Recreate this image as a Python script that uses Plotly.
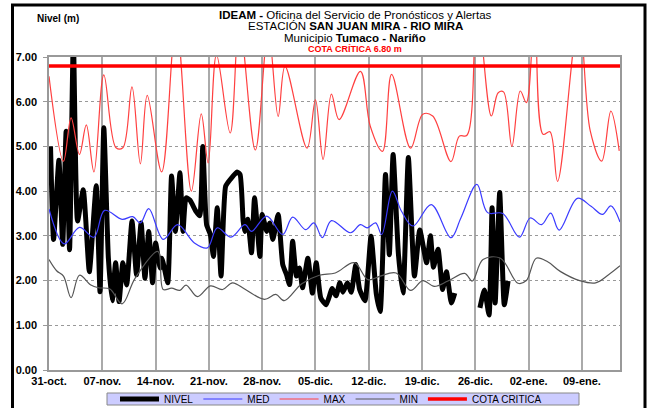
import pandas as pd
import plotly.graph_objects as go

# ---- data (day offset from 31-oct, value in m) ----
start = pd.Timestamp("2022-10-31")

nivel_days = [0.2, 0.6, 1.3, 1.8, 2.25, 2.7, 3.2, 3.75, 4.5, 5.3, 6.2, 6.7, 7.2,
              7.8, 8.3, 8.75, 9.2, 9.7, 10.2, 10.9, 11.5, 12.1, 12.6, 13.1, 13.6,
              14.0, 14.6, 14.8, 15.1, 15.6, 16.1, 16.6, 17.2, 17.6, 18.0, 18.5,
              19.3, 19.8, 20.2, 20.7, 21.2, 21.6, 22.1, 22.6, 23.2, 23.8, 24.7,
              25.1, 25.5, 25.7, 26.1, 26.6, 27.0, 27.7, 28.0, 28.6, 29.0, 29.4,
              30.1, 30.7, 31.2, 31.6, 32.0, 32.5, 32.9, 33.3, 34.0, 34.6, 35.1,
              35.7, 36.4, 37.2, 37.7, 38.2, 38.6, 39.2, 39.7, 40.3, 40.8, 41.5,
              42.3, 43.0, 43.5, 44.2, 44.7, 45.2, 45.9, 46.5, 47.2, 48.0, 48.7,
              49.6, 50.1, 50.5, 51.1, 51.7, 52.2, 52.85, 53.3,
              55.0,
              56.6, 57.2, 57.8, 58.2, 58.6, 59.2, 59.8, 60.3]
nivel_vals = [5.00, 2.92, 4.69, 2.81, 5.34, 2.69, 7.40, 3.33, 4.03, 2.20, 4.12, 1.75, 5.42,
              2.50, 1.55, 2.40, 1.53, 2.40, 1.90, 3.33, 2.13, 3.29, 2.05, 3.10, 1.95,
              2.84, 2.28, 2.50, 2.32, 1.95, 4.34, 3.10, 4.41, 3.10, 3.85, 3.80,
              3.55, 3.45, 5.00, 3.25, 3.03, 2.54, 3.63, 2.10, 4.11, 4.26, 4.43,
              4.37, 3.33, 3.10, 3.37, 2.62, 3.85, 2.54, 3.48, 3.10, 3.29, 2.92,
              3.48, 2.36, 2.13, 1.91, 2.88, 2.10, 2.28, 1.84, 2.50, 1.72, 2.40,
              1.61, 1.46, 1.82, 1.66, 1.95, 1.74, 1.95, 1.74, 2.36, 1.80, 1.55,
              2.99, 1.69, 1.31, 4.37, 2.58, 4.82, 2.58, 1.72, 4.75, 2.10, 3.13,
              2.40, 3.00, 2.30, 2.70, 1.80, 2.20, 1.50, 1.72,
              None,
              1.39, 1.79, 1.23, 3.63, 1.50, 3.97, 1.46, 1.99]

max_days = [0.0, 1.9, 2.9, 4.0, 4.9, 5.9, 7.2, 8.8, 9.7, 10.9, 12.0, 12.9, 14.8,
            16.7, 18.7, 20.0, 20.9, 22.0, 23.8, 25.0, 27.1, 28.8, 30.1, 31.0,
            33.9, 35.0, 36.0, 37.1, 38.1, 40.9, 42.2, 43.8, 45.0, 47.5, 49.1,
            50.4, 52.8, 53.9, 54.9, 56.2, 58.1, 59.0, 59.7, 60.8, 61.9, 62.7,
            63.8, 64.9, 65.8, 66.8, 69.6, 71.1, 72.6, 73.8, 74.9]
max_vals = [6.57, 4.67, 5.64, 4.82, 5.48, 4.43, 6.60, 4.97, 4.97, 6.33, 4.61, 6.14, 4.43,
            7.80, 4.00, 5.73, 4.63, 7.05, 5.30, 7.80, 4.92, 7.60, 5.67, 6.79,
            4.96, 6.04, 4.71, 6.17, 5.60, 6.68, 5.45, 4.89, 6.61, 4.96, 5.72,
            5.68, 4.66, 5.23, 5.25, 8.20, 5.68, 6.20, 6.22, 5.00, 6.24, 5.98,
            8.00, 5.27, 5.33, 4.22, 7.90, 5.34, 4.67, 5.79, 4.90]

med_days = [0.0, 2.0, 4.0, 5.9, 7.3, 9.6, 11.0, 12.0, 13.1, 15.0, 16.9, 19.1,
            20.8, 22.1, 23.9, 25.75, 26.6, 28.6, 30.7, 32.0, 33.7, 34.8, 35.9,
            37.1, 39.6, 40.9, 41.8, 42.9, 43.7, 45.1, 46.3, 47.8, 50.2, 52.8,
            54.1, 56.2, 57.6, 59.6, 61.8, 63.2, 64.7, 65.9, 67.0, 69.4, 71.2,
            72.7, 73.8, 75.0]
med_vals = [3.60, 2.82, 3.19, 2.97, 3.57, 3.37, 3.43, 3.29, 3.61, 2.92, 3.25, 2.84,
            2.73, 3.18, 2.97, 3.25, 3.10, 3.44, 3.03, 3.42, 3.14, 3.29, 2.96,
            3.34, 3.07, 3.25, 3.18, 3.29, 3.03, 4.00, 3.55, 3.22, 3.70, 2.96,
            3.40, 4.15, 3.52, 3.50, 2.97, 3.40, 3.25, 3.51, 3.13, 3.84, 3.66,
            3.48, 3.67, 3.31]

min_days = [0.0, 1.0, 1.9, 2.9, 4.0, 5.5, 6.5, 8.0, 9.6, 11.3, 14.3, 15.0, 16.1,
            17.2, 18.0, 19.5, 21.2, 22.8, 24.1, 25.8, 28.3, 29.8, 30.9, 33.2,
            35.5, 37.6, 40.1, 41.9, 43.5, 45.6, 47.5, 49.1, 50.6, 52.4, 54.6,
            55.6, 57.0, 59.3, 61.6, 62.7, 64.0, 65.5, 67.2, 69.7, 71.8, 73.5, 75.0]
min_vals = [2.47, 2.22, 2.10, 1.62, 2.12, 1.90, 1.84, 1.81, 1.48, 2.05, 2.65, 1.80, 1.83,
            1.78, 1.90, 1.64, 1.88, 1.80, 1.95, 1.80, 1.58, 1.69, 1.55, 1.93,
            2.12, 2.17, 2.40, 2.02, 2.10, 2.17, 1.78, 2.00, 1.87, 1.99, 2.16,
            1.99, 2.47, 2.50, 1.94, 2.00, 2.50, 2.42, 2.20, 2.00, 1.95, 2.13, 2.33]

cota_days = [0, 75]
cota_critica = 6.80

tick_labels = ["31-oct.", "07-nov.", "14-nov.", "21-nov.", "28-nov.", "05-dic.",
               "12-dic.", "19-dic.", "26-dic.", "02-ene.", "09-ene."]


def to_dates(days):
    return [start + pd.Timedelta(days=d) for d in days]


# plot area in pixels, used to place the decorations
L, R, T, B = 49, 620, 57, 370
W, H = R - L, B - T


def px(x):
    return (x - L) / W


def py(y):
    return (B - y) / H


FONT = "Liberation Sans, Arial, sans-serif"

fig = go.Figure()
fig.add_trace(go.Scatter(x=to_dates(nivel_days), y=nivel_vals, name="NIVEL",
                         mode="lines", connectgaps=False,
                         line=dict(color="black", width=5, shape="spline", smoothing=0.5)))
fig.add_trace(go.Scatter(x=to_dates(med_days), y=med_vals, name="MED", mode="lines",
                         line=dict(color="#3b3bff", width=1.2, shape="spline", smoothing=1)))
fig.add_trace(go.Scatter(x=to_dates(max_days), y=max_vals, name="MAX", mode="lines",
                         line=dict(color="#ff4040", width=1.2, shape="spline", smoothing=1)))
fig.add_trace(go.Scatter(x=to_dates(min_days), y=min_vals, name="MIN", mode="lines",
                         line=dict(color="#555555", width=1.2, shape="spline", smoothing=1)))
fig.add_trace(go.Scatter(x=to_dates(cota_days), y=[cota_critica] * len(cota_days),
                         name="COTA CRITICA", mode="lines",
                         line=dict(color="#ff0000", width=3.5)))

fig.update_xaxes(range=[start, start + pd.Timedelta(days=75)],
                 tickvals=to_dates(range(0, 71, 7)), ticktext=tick_labels,
                 tickfont=dict(family=FONT, size=11, color="black", weight="bold"),
                 showgrid=True, gridcolor="#aaaaaa", gridwidth=1.5,
                 showline=True, linecolor="#999999", linewidth=1.5, mirror=True,
                 ticks="", zeroline=False)
fig.update_yaxes(range=[0, 7], dtick=1, tickformat=".2f",
                 tickfont=dict(family=FONT, size=11, color="black", weight="bold"),
                 showgrid=True, gridcolor="#999999", gridwidth=1, griddash="dot",
                 showline=True, linecolor="#999999", linewidth=1.5, mirror=True,
                 ticks="outside", ticklen=4, tickcolor="#999999",
                 ticklabelstandoff=4, zeroline=False)

shapes = [
    # outer frame
    dict(type="rect", xref="paper", yref="paper", x0=px(12.5), x1=px(645),
         y0=py(412), y1=py(5), line=dict(color="black", width=3)),
    # legend box
    dict(type="rect", xref="paper", yref="paper", x0=px(107), x1=px(579),
         y0=py(405), y1=py(393), fillcolor="#ccccff",
         line=dict(color="#888888", width=1), layer="below"),
]

title_lines = [
    ("<b>IDEAM -</b> Oficina del Servicio de Pronósticos y Alertas", 15, 11.5, "black"),
    ("ESTACIÓN <b>SAN JUAN MIRA - RIO MIRA</b>", 26, 11.5, "black"),
    ("Municipio <b>Tumaco - Nariño</b>", 38, 11.5, "black"),
    ("<b>COTA CRÍTICA 6.80 m</b>", 49, 9, "red"),
]
annotations = [dict(text=t, xref="paper", yref="paper", x=px(355), y=py(yy),
                    xanchor="center", yanchor="middle", showarrow=False,
                    font=dict(family=FONT, size=s, color=c))
               for t, yy, s, c in title_lines]
annotations.append(dict(text="<b>Nivel (m)</b>", xref="paper", yref="paper",
                        x=px(58), y=py(18.5), xanchor="center", yanchor="middle",
                        showarrow=False, font=dict(family=FONT, size=10, color="black")))

fig.update_layout(
    width=648, height=408,
    margin=dict(l=L, r=648 - R, t=T, b=408 - B, autoexpand=False),
    paper_bgcolor="white", plot_bgcolor="white",
    shapes=shapes, annotations=annotations,
    showlegend=True,
    legend=dict(orientation="h", x=px(115), y=py(399), xanchor="left", yanchor="middle",
                bgcolor="rgba(0,0,0,0)", font=dict(family=FONT, size=10, color="black"),
                itemwidth=39),
)

fig.write_html("out.html", config={"displayModeBar": False},
               post_script="document.body.style.margin='0';")
